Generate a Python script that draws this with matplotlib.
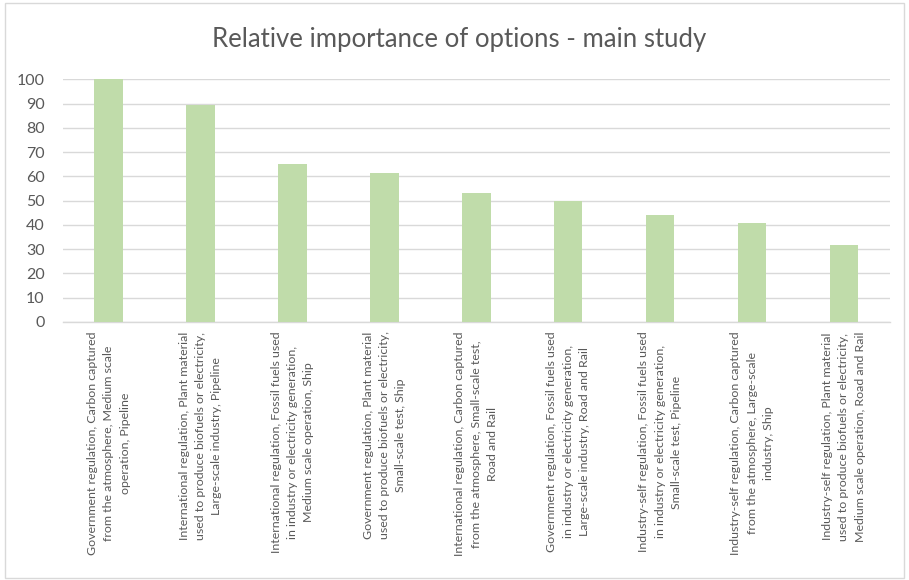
import matplotlib.pyplot as plt
import matplotlib.patches as patches

plt.rcParams['font.family'] = ['Lato', 'DejaVu Sans']

options = [
    "Government regulation, Carbon captured\nfrom the atmosphere, Medium scale\noperation, Pipeline",
    "International regulation, Plant material\nused to produce biofuels or electricity,\nLarge-scale industry, Pipeline",
    "International regulation, Fossil fuels used\nin industry or electricity generation,\nMedium scale operation, Ship",
    "Government regulation, Plant material\nused to produce biofuels or electricity,\nSmall-scale test, Ship",
    "International regulation, Carbon captured\nfrom the atmosphere, Small-scale test,\nRoad and Rail",
    "Government regulation, Fossil fuels used\nin industry or electricity generation,\nLarge-scale industry, Road and Rail",
    "Industry-self regulation, Fossil fuels used\nin industry or electricity generation,\nSmall-scale test, Pipeline",
    "Industry-self regulation, Carbon captured\nfrom the atmosphere, Large-scale\nindustry, Ship",
    "Industry-self regulation, Plant material\nused to produce biofuels or electricity,\nMedium scale operation, Road and Rail",
]
importance = [100, 89.4, 65.2, 61.4, 53.3, 49.7, 44.2, 40.8, 31.7]
yticks = list(range(0, 101, 10))

fig = plt.figure(figsize=(9.09, 5.8), dpi=100)
# chart area border
fig.patches.append(patches.Rectangle((0.006, 0.004), 0.988, 0.99, transform=fig.transFigure,
                                     fill=False, edgecolor='#d9d9d9', linewidth=1))

ax = fig.add_axes([0.069, 0.445, 0.91, 0.418])
x = range(len(options))
ax.bar(x, importance, width=0.31, color='#c0dcaa', zorder=3)

ax.set_xlim(-0.5, len(options) - 0.5)
ax.set_ylim(0, 100)
ax.set_yticks(yticks)
ax.set_yticklabels([str(v) for v in yticks], fontsize=11.5, color='#595959')
ax.set_xticks(list(x))
ax.set_xticklabels(options, rotation=90, fontsize=8.9, color='#595959',
                   ha='center', va='top', multialignment='center', linespacing=1.6)
ax.tick_params(length=0, pad=7)
ax.tick_params(axis='y', pad=13)
ax.yaxis.grid(True, color='#d9d9d9', linewidth=1, zorder=0)
for s in ['top', 'right', 'left']:
    ax.spines[s].set_visible(False)
ax.spines['bottom'].set_color('#d9d9d9')
ax.spines['bottom'].set_linewidth(1)

fig.text(0.505, 0.932, "Relative importance of options - main study", ha='center', va='center',
         fontsize=18.5, color='#595959')

fig.savefig("out.png", dpi=100)
